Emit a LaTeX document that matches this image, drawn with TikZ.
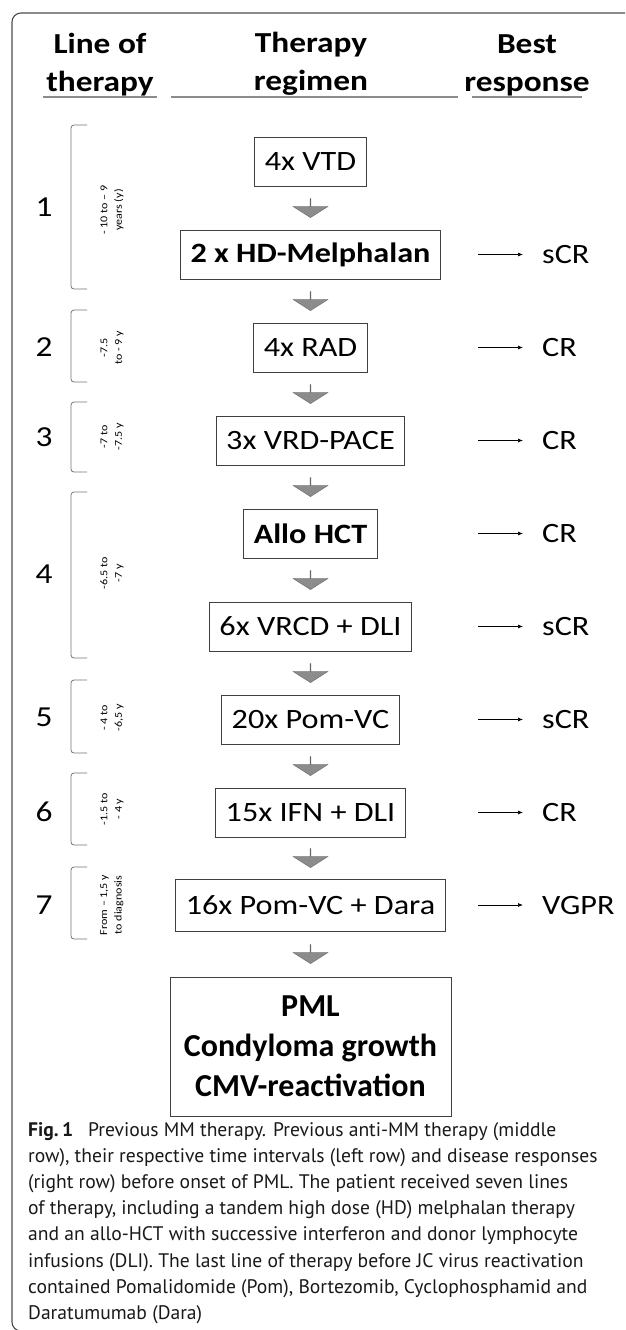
\documentclass[tikz,border=0pt]{standalone}
\usepackage{fontspec}
\setmainfont{Carlito}
\newfontfamily\widefont{Carlito}[FakeStretch=1.15]
\newfontfamily\captionfont{PT Sans}
\usetikzlibrary{shapes.arrows,arrows.meta,positioning}

\begin{document}
\begin{tikzpicture}[
    x=1pt, y=-1pt,
    node distance=44pt,
    head/.style={align=center, inner sep=0pt, font=\widefont\bfseries\fontsize{29}{38}\selectfont},
    headrule/.style={draw=black!45, line width=1.4pt},
    regimen/.style={rectangle, draw=black!75, line width=0.9pt, outer sep=0pt, minimum height=49pt, inner xsep=10pt, font=\widefont\fontsize{28}{32}\selectfont},
    strong/.style={regimen, font=\widefont\bfseries\fontsize{28}{32}\selectfont},
    flow/.style={single arrow, shape border rotate=270, draw=black!60, fill=black!45, minimum height=19pt, minimum width=35pt, single arrow head extend=11pt, single arrow tip angle=115, inner sep=0pt},
    resp/.style={anchor=west, inner sep=0pt, font=\widefont\fontsize{28}{32}\selectfont},
    resline/.style={-{Latex[length=5pt, width=4pt]}, line width=0.7pt, shorten >=19pt},
    lineno/.style={inner sep=0pt, font=\widefont\fontsize{29}{32}\selectfont},
    interval/.style={rotate=90, align=center, inner sep=0pt, font=\widefont\fontsize{10.5}{14.5}\selectfont},
    bracket/.style={draw=black!55, line width=0.8pt, rounded corners=3pt},
    frame/.style={draw=black!70, line width=1.1pt, rounded corners=9pt},
    caption/.style={anchor=north west, align=left, inner sep=0pt, text=black!90, font=\captionfont\fontsize{19.6}{26.2}\selectfont}
]
\useasboundingbox (0,0) rectangle (625,1330);
\draw[frame] (625,13) -- (12,13) -- (12,1331) -- (40,1331);

\node[head, anchor=south] (hline) at (100,96) {Line of\\therapy};
\node[head, anchor=south] (hreg) at (311,96) {Therapy\\regimen};
\node[head, anchor=south] (hbest) at (527,96) {Best\\response};
\draw[headrule] (43,97) -- (157,97);
\draw[headrule] (171,97) -- (458,97);
\draw[headrule] (472,97) -- (582,97);

\node[regimen] (vtd) at (310.5,161.5) {4x VTD};
\node[strong, below=of vtd] (melph) {2 x HD-Melphalan};
\node[regimen, below=of melph] (rad) {4x RAD};
\node[regimen, below=of rad] (vrd) {3x VRD-PACE};
\node[strong, below=of vrd] (allo) {Allo HCT};
\node[regimen, below=of allo] (vrcd) {6x VRCD + DLI};
\node[regimen, below=of vrcd] (pomvc) {20x Pom-VC};
\node[regimen, below=of pomvc] (ifn) {15x IFN + DLI};
\node[regimen, below=42pt of ifn, minimum height=52pt] (dara) {16x Pom-VC + Dara};
\node[regimen, below=46pt of dara, minimum width=281pt, minimum height=139pt, align=center,
      font=\bfseries\fontsize{32}{40}\selectfont] (pml) {PML\\Condyloma growth\\CMV-reactivation};

\path (vtd.south) -- node[flow] (f1) {} (melph.north);
\path (melph.south) -- node[flow] (f2) {} (rad.north);
\path (rad.south) -- node[flow] (f3) {} (vrd.north);
\path (vrd.south) -- node[flow] (f4) {} (allo.north);
\path (allo.south) -- node[flow] (f5) {} (vrcd.north);
\path (vrcd.south) -- node[flow] (f6) {} (pomvc.north);
\path (pomvc.south) -- node[flow] (f7) {} (ifn.north);
\path (ifn.south) -- node[flow] (f8) {} (dara.north);
\path (dara.south) -- node[flow] (f9) {} (pml.north);

\coordinate (rx) at (478,0);
\coordinate (rcol) at (542,0);
\node[resp] (r1) at (melph -| rcol) {sCR};
\node[resp] (r2) at (rad -| rcol) {CR};
\node[resp] (r3) at (vrd -| rcol) {CR};
\node[resp] (r4) at (allo -| rcol) {CR};
\node[resp] (r5) at (vrcd -| rcol) {sCR};
\node[resp] (r6) at (pomvc -| rcol) {sCR};
\node[resp] (r7) at (ifn -| rcol) {CR};
\node[resp] (r8) at (dara -| rcol) {VGPR};
\draw[resline] (melph -| rx) -- (r1.west);
\draw[resline] (rad -| rx) -- (r2.west);
\draw[resline] (vrd -| rx) -- (r3.west);
\draw[resline] (allo -| rx) -- (r4.west);
\draw[resline] (vrcd -| rx) -- (r5.west);
\draw[resline] (pomvc -| rx) -- (r6.west);
\draw[resline] (ifn -| rx) -- (r7.west);
\draw[resline] (dara -| rx) -- (r8.west);

\node[lineno] (n1) at (44,207) {1};
\node[lineno] (n2) at (44,347) {2};
\node[lineno] (n3) at (44,437) {3};
\node[lineno] (n4) at (44,574) {4};
\node[lineno] (n5) at (44,717) {5};
\node[lineno] (n6) at (44,812) {6};
\node[lineno] (n7) at (44,905) {7};

\draw[bracket] (87,125) -- (71,125) -- (71,289) -- (87,289);
\draw[bracket] (87,310) -- (71,310) -- (71,382) -- (87,382);
\draw[bracket] (87,402) -- (71,402) -- (71,472) -- (87,472);
\draw[bracket] (87,492) -- (71,492) -- (71,658) -- (87,658);
\draw[bracket] (87,680) -- (71,680) -- (71,753) -- (87,753);
\draw[bracket] (87,773) -- (71,773) -- (71,845) -- (87,845);
\draw[bracket] (87,867) -- (71,867) -- (71,939) -- (87,939);

\node[interval] (t1) at (112,210) {- 10 to – 9\\years (y)};
\node[interval] (t2) at (112,348) {-7.5\\to - 9 y};
\node[interval] (t3) at (112,437) {-7 to\\-7.5 y};
\node[interval] (t4) at (112,573) {-6.5 to\\-7 y};
\node[interval] (t5) at (112,718) {- 4 to\\-6,5 y};
\node[interval] (t6) at (112,809) {-1.5 to\\- 4 y};
\node[interval] (t7) at (112,905) {From – 1,5 y\\to diagnosis};

\node[caption] (cap) at (28,1122) {\textbf{Fig.\,1}\hspace{0.5em} Previous MM therapy. Previous anti-MM therapy (middle\\
row), their respective time intervals (left row) and disease responses\\
(right row) before onset of PML. The patient received seven lines\\
of therapy, including a tandem high dose (HD) melphalan therapy\\
and an allo-HCT with successive interferon and donor lymphocyte\\
infusions (DLI). The last line of therapy before JC virus reactivation\\
contained Pomalidomide (Pom), Bortezomib, Cyclophosphamid and\\
Daratumumab (Dara)};
\end{tikzpicture}
\end{document}
